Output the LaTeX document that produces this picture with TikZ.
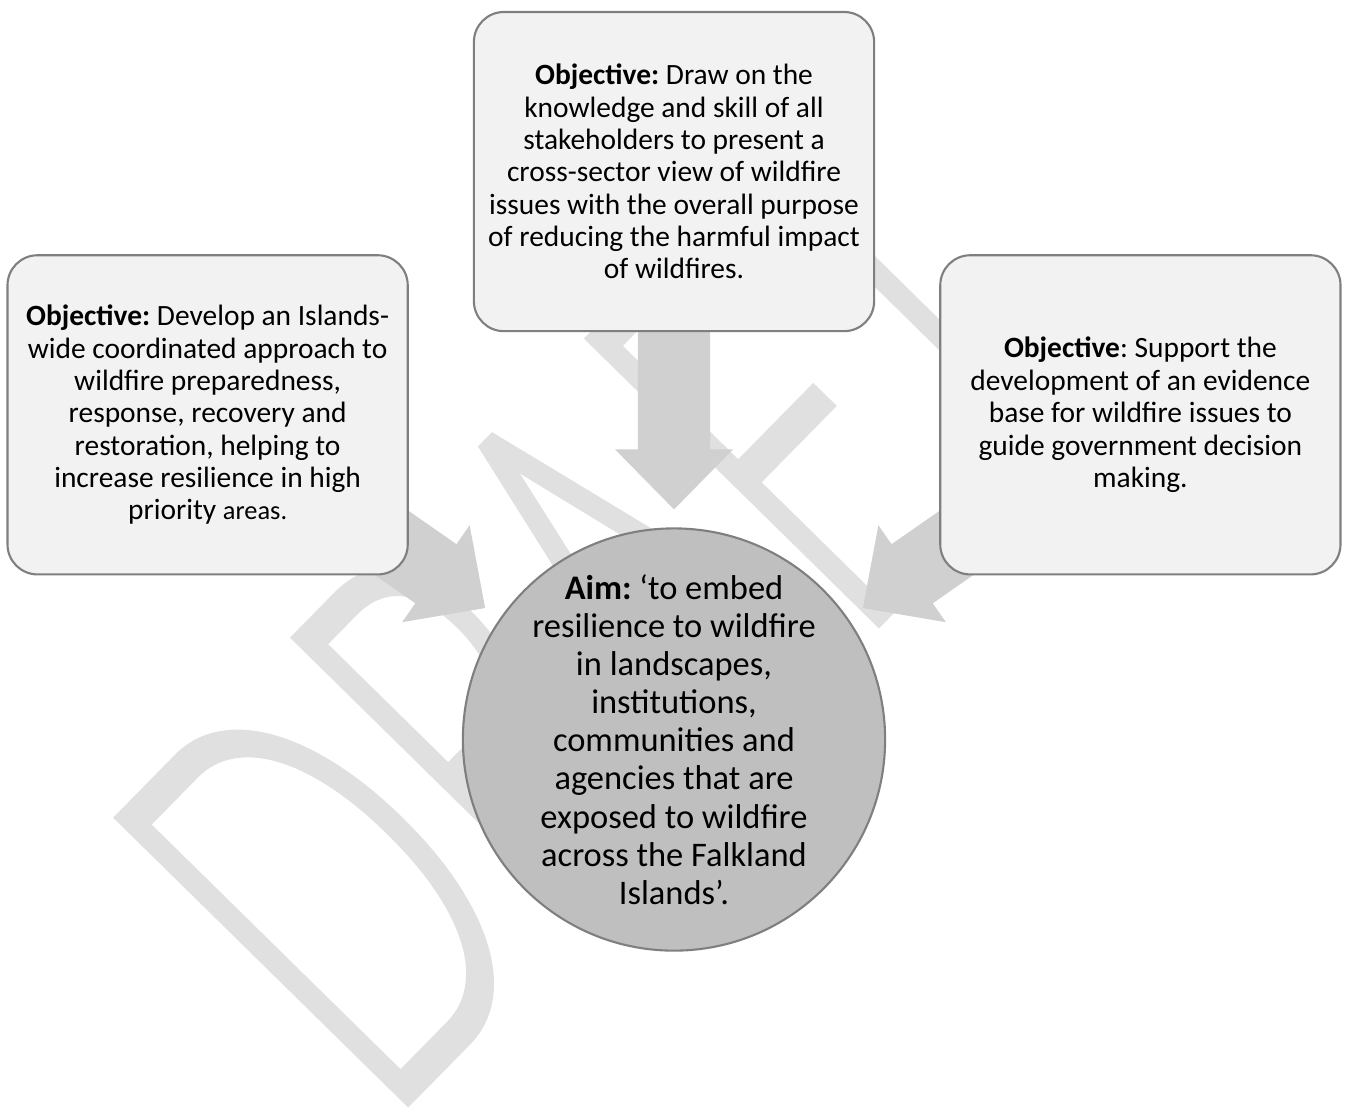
\documentclass[tikz,border=0pt]{standalone}
\usepackage{fontspec}
\setmainfont{Carlito}
\newfontfamily\wmfont[FakeBold=1.5]{Lato Light}
\usepackage{graphicx}
\usepackage{tikz}
\usetikzlibrary{positioning,calc,backgrounds}
\pgfdeclarelayer{watermark}
\pgfsetlayers{watermark,background,main}
\definecolor{wfInk}{HTML}{000000}
\definecolor{wfBorder}{HTML}{7F7F7F}
\definecolor{wfBoxFill}{HTML}{F2F2F2}
\definecolor{wfAimFill}{HTML}{BFBFBF}
\definecolor{wfArrow}{HTML}{D0D0D0}
\definecolor{wfMark}{HTML}{E0E0E0}
\tikzset{
  % Objective box (light grey, rounded)
  objbox/.style={rectangle,rounded corners=0.3cm,
    minimum width=4cm,minimum height=3.19cm,inner sep=0pt,
    align=center,draw=wfBorder,line width=0.6pt,fill=wfBoxFill,
    font=\fontsize{8.37}{9.2}\selectfont,text=wfInk},
  % Aim circle (darker grey) and its text
  aimcircle/.style={circle,minimum size=4.22cm,inner sep=0pt,
    draw=wfBorder,line width=0.6pt,fill=wfAimFill},
  aimtext/.style={align=center,inner sep=0pt,
    font=\fontsize{9.8}{10.85}\selectfont,text=wfInk},
  % Block arrow
  blockarr/.style={fill=wfArrow},
  % Watermark text
  wmark/.style={text=wfMark,font=\wmfont\fontsize{162.8}{162.8}\selectfont,
    inner sep=0pt,rotate=45.5,anchor=base west},
}

\begin{document}
\frenchspacing
\begin{tikzpicture}[x=0.01cm,y=-0.01cm]
  \useasboundingbox (0,0) rectangle (1346,1108);
  \clip (0,0) rectangle (1346,1108);

  \node[aimcircle] (aim) at (674,739.5) {};
  \node[aimtext] (aimtxt) at (aim.center)
    {\textbf{Aim:} ‘to embed\\resilience to wildfire\\in landscapes,\\
     institutions,\\communities and\\agencies that are\\
     exposed to wildfire\\across the Falkland\\Islands’.};
  \node[objbox,above=1.95cm of aim] (obj2)
    {\textbf{Objective:} Draw on the\\knowledge and skill of all\\
     stakeholders to present a\\cross-sector view of wildfire\\
     issues with the overall purpose\\of reducing the harmful impact\\
     of wildfires.};
  \node[objbox,below left=-0.78cm and 0.64cm of obj2] (obj1)
    {\textbf{Objective:} Develop an Islands-\\wide coordinated approach to\\
     wildfire preparedness,\\response, recovery and\\
     restoration, helping to\\increase resilience in high\\
     priority {\fontsize{7.5}{9.2}\selectfont areas.}};
  \node[objbox,below right=-0.78cm and 0.64cm of obj2] (obj3)
    {\textbf{Objective}: Support the\\development of an evidence\\
     base for wildfire issues to\\guide government decision\\making.};

  % watermark
  \begin{pgfonlayer}{watermark}
    \node[wmark] (draft) at (382,1128) {\scalebox{0.58}[1]{DRAFT}};
  \end{pgfonlayer}

  % block arrows into the aim
  \begin{scope}[on background layer]
    \foreach \src in {obj1,obj2,obj3}{
      \coordinate (atip) at ($(aim.center)!2.30cm!(\src.center)$);
      \coordinate (abase) at ($(atip)!0.60cm!(\src.center)$);
      \fill[blockarr] ($(\src.center)!0.36cm!90:(atip)$)
        -- ($(abase)!0.36cm!-90:(\src.center)$)
        -- ($(abase)!0.59cm!-90:(\src.center)$)
        -- (atip)
        -- ($(abase)!0.59cm!90:(\src.center)$)
        -- ($(abase)!0.36cm!90:(\src.center)$)
        -- ($(\src.center)!0.36cm!-90:(atip)$) -- cycle;
    }
  \end{scope}
\end{tikzpicture}
\end{document}
